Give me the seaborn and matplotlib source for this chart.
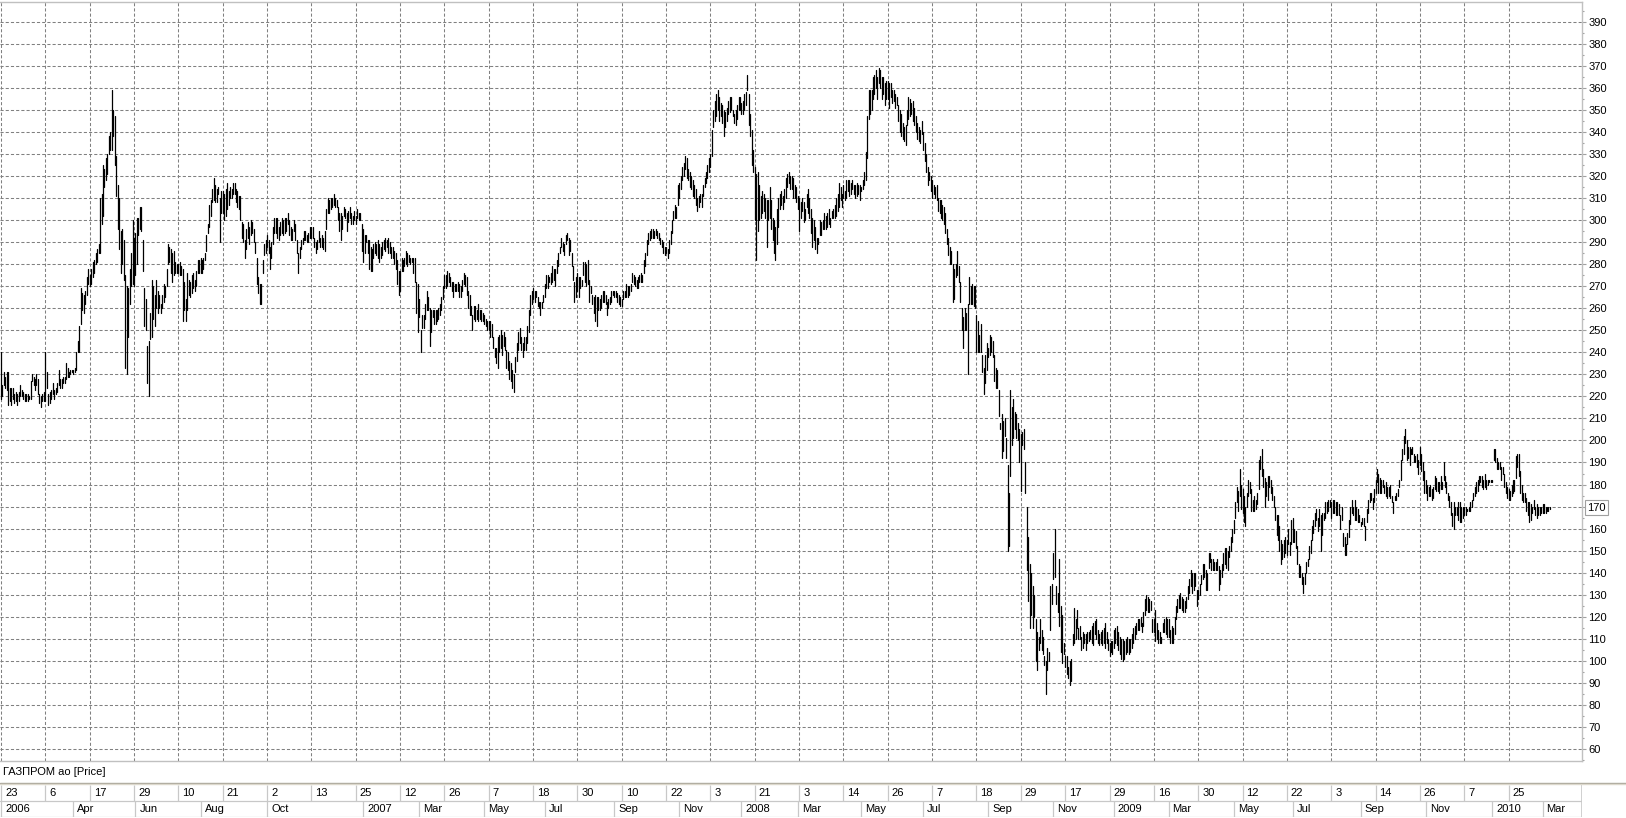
import numpy as np
import pandas as pd
import matplotlib
matplotlib.use("Agg")
import matplotlib.pyplot as plt
from matplotlib.lines import Line2D
from matplotlib.transforms import blended_transform_factory, offset_copy
import seaborn as sns

# ---------------- data (daily bars) ----------------
bar_low = [
    219,220,225,224,223,216,218,216,219,217,218,216,218,220,220,219,218,218,218,219,219,227,225,223,225,221,217,215,218,218,
    218,224,216,217,219,221,219,221,222,225,224,224,226,226,228,229,229,230,231,230,231,232,240,240,253,259,258,262,266,271,
    270,271,274,276,280,281,285,285,298,302,315,318,321,330,332,332,338,325,311,296,287,276,280,273,233,230,247,262,270,271,
    270,275,280,293,296,295,277,252,250,226,220,246,247,255,252,260,258,260,258,260,263,265,270,280,281,276,272,275,276,276,
    276,275,275,254,259,254,259,266,265,267,269,268,270,276,276,276,276,278,282,286,294,297,302,308,309,308,308,312,290,303,
    303,300,302,305,307,310,310,312,312,308,306,305,300,292,290,283,287,292,289,293,294,290,285,271,267,262,262,276,284,285,
    288,285,278,283,289,294,294,292,291,293,294,293,294,295,298,293,291,291,295,291,285,276,283,287,289,291,291,290,290,292,
    292,292,288,285,287,290,288,288,287,286,296,303,303,305,306,307,306,306,300,295,291,296,302,301,295,299,301,298,298,300,
    298,301,300,300,286,281,285,290,285,278,277,277,283,285,284,283,281,283,284,287,286,288,285,285,283,283,280,278,271,266,
    268,277,277,279,280,279,281,280,281,276,272,258,249,256,240,251,251,255,259,259,243,249,256,253,253,254,255,257,259,264,
    269,269,270,272,270,268,265,268,268,268,265,265,268,271,270,266,260,257,257,250,255,254,255,254,255,254,254,253,252,250,
    250,247,247,242,238,235,233,240,242,239,243,241,233,232,228,227,224,222,231,236,241,244,241,238,241,241,244,249,257,262,
    264,263,265,261,260,257,260,263,265,269,269,272,271,272,273,270,276,279,285,288,286,284,289,291,284,286,279,273,263,265,
    268,265,269,270,275,272,270,271,263,267,262,258,254,252,259,259,260,263,263,262,257,260,262,263,266,265,265,263,262,261,
    261,264,265,265,265,266,268,272,271,270,269,269,272,272,272,276,279,284,289,291,292,292,292,293,292,291,289,288,285,284,
    285,283,285,289,294,300,301,301,307,310,314,318,320,323,319,318,315,314,311,310,307,304,306,308,306,311,315,317,319,322,
    324,329,342,345,347,350,345,347,344,338,342,345,348,349,350,347,344,343,346,350,350,348,348,350,352,359,343,338,325,322,
    300,282,295,300,301,303,304,301,288,300,301,296,291,285,282,289,297,305,307,305,308,310,315,317,314,314,310,310,308,305,
    295,301,304,299,300,306,303,301,294,288,291,287,285,289,293,293,296,296,296,297,298,297,301,301,301,302,304,306,309,306,
    310,309,310,313,311,312,314,312,310,311,312,309,313,314,316,318,328,346,348,350,355,357,360,355,362,360,355,357,352,355,
    355,351,356,353,354,351,352,345,340,338,337,336,334,343,346,347,348,345,343,340,337,336,335,339,332,327,322,316,318,313,
    310,312,310,309,304,303,301,300,298,294,289,284,280,280,263,264,274,275,272,263,250,242,250,250,230,262,262,262,261,260,
    240,240,240,240,231,221,226,232,238,239,240,238,227,224,224,211,205,192,195,202,192,150,152,184,198,201,205,201,200,190,
    177,198,196,176,141,127,115,121,115,120,100,96,105,108,105,103,98,85,96,100,114,126,137,138,126,122,116,104,99,103,
    97,94,92,89,91,107,108,110,115,110,110,105,106,108,105,108,109,110,108,107,112,110,108,107,108,107,108,106,108,105,
    102,104,103,106,108,107,105,103,101,100,101,103,104,103,104,106,108,110,112,114,114,116,113,116,121,123,122,122,123,113,
    113,109,110,108,108,108,113,113,112,111,111,108,108,108,112,119,122,124,124,123,122,122,124,128,131,134,131,132,134,125,
    128,130,135,137,138,132,132,142,145,141,141,141,141,141,132,135,138,141,144,142,141,147,150,154,158,165,172,168,175,169,
    167,163,161,170,175,176,168,168,168,169,171,178,187,184,179,170,175,173,179,176,173,170,164,157,155,150,144,146,147,149,
    148,153,148,153,154,154,151,144,138,138,135,131,135,140,143,146,149,155,158,161,164,159,161,150,157,164,165,167,168,170,
    165,167,167,166,166,166,160,164,152,148,148,153,156,162,167,166,164,164,163,163,161,162,161,155,163,167,172,173,169,172,
    176,181,176,176,176,179,176,175,174,175,174,172,167,173,173,175,179,182,191,194,199,191,192,189,194,194,190,190,188,185,
    189,186,182,176,176,173,175,175,173,174,178,177,177,176,178,178,182,179,176,173,170,166,161,160,166,166,164,163,163,165,
    166,166,168,168,168,170,173,175,176,177,180,181,179,178,179,178,180,181,181,181,191,190,187,187,187,182,185,179,176,174,
    173,173,175,176,177,183,188,184,176,173,172,172,168,166,163,164,167,169,166,165,166,166,167,167,167,167,168,168,169,
]
bar_high = [
    240,225,231,229,231,231,224,224,224,221,222,221,222,225,223,222,221,221,221,220,227,230,229,228,230,228,221,220,221,222,
    240,231,221,222,223,226,223,224,226,232,228,228,229,229,235,233,231,232,232,232,233,240,245,252,269,267,266,268,274,278,
    275,278,281,282,285,287,289,310,312,325,323,328,330,338,340,359,350,347,329,316,310,295,296,291,275,270,269,278,285,300,
    292,294,301,301,306,306,291,269,264,243,245,258,273,270,266,273,268,266,262,266,271,270,278,289,288,287,285,286,281,280,
    280,281,279,278,272,264,276,273,272,275,276,273,277,282,282,283,282,283,285,293,298,307,309,314,319,316,314,315,310,313,
    313,312,314,317,313,315,314,317,317,314,313,311,311,299,298,291,296,299,297,300,299,296,290,283,274,271,271,282,289,291,
    293,291,288,290,297,301,301,301,297,299,301,300,301,301,303,300,297,296,300,298,291,285,288,291,292,295,295,293,294,297,
    297,297,292,290,291,295,292,293,292,295,305,310,309,310,310,312,310,309,306,303,303,302,306,305,303,304,306,303,302,304,
    302,305,303,303,298,296,293,293,291,291,288,287,289,290,289,291,289,288,290,291,292,291,292,290,288,288,286,285,282,277,
    277,283,282,283,286,285,284,283,283,283,283,272,271,264,250,257,257,262,268,265,260,259,259,259,259,259,260,262,265,270,
    275,275,277,276,274,272,272,271,271,272,271,270,273,276,275,274,268,266,261,257,261,261,259,262,259,259,258,257,255,254,
    254,254,253,247,242,242,247,248,250,248,249,247,241,240,236,235,232,230,238,244,249,251,247,244,247,247,252,259,266,268,
    269,268,268,265,263,263,263,266,271,275,275,274,276,279,278,278,282,285,288,292,290,289,293,294,292,291,285,279,272,274,
    276,274,274,273,281,281,280,282,273,270,266,265,266,265,265,264,266,268,268,266,263,264,265,268,268,268,268,267,266,265,
    264,268,268,271,270,270,271,276,275,274,273,274,275,276,275,282,285,291,294,295,296,296,295,296,295,294,292,291,290,288,
    288,287,291,295,300,304,307,306,316,317,320,324,326,329,328,323,322,320,318,316,314,310,311,312,312,316,319,322,325,328,
    330,341,350,354,357,359,356,353,352,350,349,351,354,356,356,350,348,350,352,356,356,353,354,357,358,366,357,348,341,332,
    324,321,322,316,311,313,312,310,309,309,315,309,301,300,297,305,310,312,313,311,314,319,321,322,320,320,319,316,315,311,
    310,308,310,308,305,312,314,310,305,301,300,297,292,292,300,299,300,303,302,303,305,301,304,305,307,310,312,317,315,312,
    316,313,318,318,318,317,318,316,316,317,316,316,315,318,322,331,347,359,359,359,365,366,368,365,369,368,365,365,362,363,
    363,362,362,359,359,357,356,352,350,348,344,342,343,350,356,355,353,354,351,347,344,342,341,345,340,335,330,324,322,320,
    318,316,315,316,310,309,309,307,306,303,296,292,288,286,280,278,280,286,279,272,260,256,260,258,262,274,270,271,270,270,
    257,254,248,253,239,233,239,244,242,248,247,245,239,233,232,223,208,212,209,210,201,189,176,223,215,219,213,212,208,205,
    203,204,205,190,170,156,144,140,134,130,119,113,111,119,114,111,102,100,106,104,134,135,149,160,134,131,146,125,121,108,
    102,102,97,100,101,112,124,119,123,115,116,111,113,112,112,113,113,114,116,117,118,119,114,112,113,114,115,117,113,110,
    108,109,109,114,115,116,113,111,110,110,109,110,111,110,110,112,115,116,117,119,119,120,117,122,128,130,129,128,127,119,
    119,123,117,114,113,111,117,119,120,119,119,114,116,115,120,125,128,130,131,129,128,127,129,134,137,141,140,140,140,132,
    132,135,139,144,144,141,140,149,149,146,146,145,145,146,143,141,144,149,151,151,150,152,156,160,164,172,179,177,187,180,
    178,175,170,176,182,181,178,173,175,173,176,191,193,196,187,183,181,184,184,182,179,175,170,166,166,161,155,153,155,156,
    155,160,154,164,165,160,159,152,144,143,140,138,140,145,146,152,155,161,164,167,169,165,169,166,167,167,172,172,173,173,
    172,173,173,172,172,171,166,170,158,156,153,158,164,170,173,170,173,170,169,166,163,165,165,161,169,173,176,176,174,178,
    182,187,185,183,182,182,180,181,179,179,180,175,172,175,176,178,182,191,196,202,205,200,197,197,196,197,194,193,194,191,
    197,194,190,186,182,180,179,180,178,179,184,183,181,181,184,181,190,184,181,176,175,172,167,172,170,170,172,172,170,170,
    170,170,169,170,172,173,176,179,181,182,184,184,184,182,185,182,182,182,182,182,196,196,192,190,190,188,188,185,181,179,
    178,177,180,182,182,193,194,194,186,180,176,176,174,172,172,171,170,173,170,171,170,170,170,171,171,170,170,170,170,
]

day_labels = ["23", "6", "17", "29", "10", "21", "2", "13", "25", "12", "26", "7", "18",
              "30", "10", "22", "3", "21", "3", "14", "26", "7", "18", "29", "17", "29",
              "16", "30", "12", "22", "3", "14", "26", "7", "25"]
bars_per_day_tick = 30

month_labels = ["2006", "Apr", "Jun", "Aug", "Oct", "2007", "Mar", "May", "Jul", "Sep", "Nov",
                "2008", "Mar", "May", "Jul", "Sep", "Nov", "2009", "Mar", "May", "Jul", "Sep",
                "Nov", "2010", "Mar"]
month_start_bar = [0, 49, 91, 135, 180, 245, 283, 327, 368, 415, 459,
                   501, 539, 582, 624, 668, 712, 753, 790, 834, 874, 920,
                   964, 1009, 1043]

price_ticks = list(range(60, 400, 10))
last_price = 170
series_title = "ГАЗПРОМ ао [Price]"

# ---------------- styling ----------------
sns.set_theme(style="white")
plt.rcParams["font.family"] = ["Liberation Sans", "DejaVu Sans"]

W, H = 1626, 818
fig = plt.figure(figsize=(W / 100, H / 100), dpi=100)
fig.patch.set_facecolor("white")


def fx(px):
    return px / W


def fy(py):
    return 1 - py / H


PLOT_TOP, PLOT_BOTTOM, PLOT_RIGHT = 2, 761, 1582
ax = fig.add_axes([0, fy(PLOT_BOTTOM), fx(PLOT_RIGHT), (PLOT_BOTTOM - PLOT_TOP) / H])
ax.set_facecolor("white")

n = len(bar_low)
prices = pd.DataFrame({
    "bar": np.repeat(np.arange(n), 2),
    "price": np.column_stack([bar_low, bar_high]).ravel(),
})
sns.lineplot(data=prices, x="bar", y="price", units="bar", estimator=None,
             sort=False, color="black", linewidth=0.9, ax=ax, legend=False)

px_per_bar = 1.478
ax.set_xlim(-1.0 / px_per_bar, (PLOT_RIGHT - 1) / px_per_bar)
ax.set_ylim(54.56, 398.94)
ax.set_xlabel("")
ax.set_ylabel("")

tick_bars = list(range(0, n, bars_per_day_tick))[: len(day_labels)]
ax.set_xticks(tick_bars)
ax.tick_params(axis="x", length=0, labelbottom=False)

ax.yaxis.tick_right()
ax.set_yticks(price_ticks, labels=[("" if v == last_price else str(v)) for v in price_ticks])
ax.set_yticks([v + 5 for v in range(50, 400, 10) if 54.6 < v + 5 < 398.9], minor=True)
ax.tick_params(axis="y", which="major", right=True, left=False, labelright=True,
               labelleft=False, length=3, width=0.8, pad=1.5, color="#a0a0a0",
               labelcolor="black", labelsize=8)
ax.tick_params(axis="y", which="minor", right=True, left=False, length=1.6,
               width=0.8, color="#a0a0a0")

ax.set_axisbelow(True)
ax.grid(True, which="major", color="#808080", linestyle=(0, (3, 2)), linewidth=0.75)
for side in ["top", "right", "bottom"]:
    ax.spines[side].set_visible(True)
    ax.spines[side].set_color("#c0c0c0")
    ax.spines[side].set_linewidth(1.0)
ax.spines["left"].set_visible(False)

# last price marker label with a box
tr_last = offset_copy(blended_transform_factory(ax.transAxes, ax.transData), fig=fig,
                      x=5.5, y=0, units="dots")
ax.text(1.0, last_price, str(last_price), transform=tr_last, ha="left",
        va="center_baseline", fontsize=8, color="black", clip_on=False,
        bbox=dict(boxstyle="square,pad=0.2", facecolor="white", edgecolor="#a0a0a0",
                  linewidth=0.8))

# series title
fig.text(fx(3), fy(772), series_title, ha="left", va="center", fontsize=8, color="black")

# etched separator line above the date table
fig.add_artist(Line2D([0, 1], [fy(782.5), fy(782.5)], transform=fig.transFigure,
                      color="#a8a498", linewidth=1.0))
fig.add_artist(Line2D([0, 1], [fy(784), fy(784)], transform=fig.transFigure,
                      color="#dcd8cc", linewidth=1.0))

# date table (two rows) sharing the x scale of the chart
TAB_TOP, TAB_BOTTOM = 785, 817
ax_tab = fig.add_axes([0, fy(TAB_BOTTOM), fx(PLOT_RIGHT), (TAB_BOTTOM - TAB_TOP) / H],
                      sharex=ax)
ax_tab.set_ylim(0, 2)
ax_tab.axis("off")
cell_color = "#c8c8c8"
ax_tab.vlines(tick_bars, 1, 2, color=cell_color, linewidth=0.9)
ax_tab.vlines(month_start_bar, 0, 1, color=cell_color, linewidth=0.9)
ax_tab.axvline(ax.get_xlim()[1], 0, 1, color=cell_color, linewidth=1.2)
ax_tab.axhline(1, color=cell_color, linewidth=0.9)
ax_tab.axhline(0.02, color=cell_color, linewidth=0.9)

tr_lab = offset_copy(ax_tab.transData, fig=fig, x=4, y=0, units="dots")
for b, lab in zip(tick_bars, day_labels):
    ax_tab.text(b, 1.5, lab, transform=tr_lab, ha="left", va="center",
                fontsize=8, color="black")
for b, lab in zip(month_start_bar, month_labels):
    ax_tab.text(b, 0.5, lab, transform=tr_lab, ha="left", va="center",
                fontsize=8, color="black")

fig.savefig("out.png", dpi=100, facecolor="white")
